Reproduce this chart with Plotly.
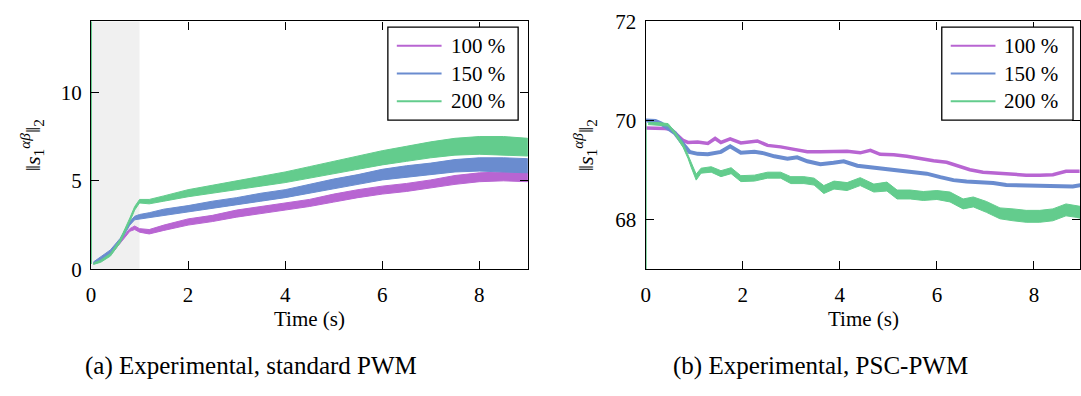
import plotly.graph_objects as go

# ---------------- data ----------------
series_names = ["100 %", "150 %", "200 %"]
colors = ["#b865d2", "#6a8ccf", "#63cc8d"]

# (a) Experimental, standard PWM: envelopes of the dense oscillating signals
t_a = [0.05, 0.2, 0.4, 0.6, 0.8, 0.9, 1.0, 1.2, 1.5, 2.0, 2.5, 3.0, 3.5, 4.0,
       4.5, 5.0, 5.5, 6.0, 6.5, 7.0, 7.5, 8.0, 8.5, 9.0]
a100_lo = [0.30, 0.45, 0.80, 1.50, 2.15, 2.25, 2.10, 2.00, 2.20, 2.50, 2.70, 2.95,
           3.15, 3.35, 3.55, 3.80, 4.05, 4.25, 4.40, 4.60, 4.80, 4.95, 5.00, 4.95]
a100_hi = [0.38, 0.58, 0.95, 1.65, 2.30, 2.45, 2.30, 2.25, 2.50, 2.85, 3.05, 3.35,
           3.55, 3.75, 3.95, 4.25, 4.50, 4.70, 4.85, 5.05, 5.30, 5.45, 5.50, 5.45]
a150_lo = [0.32, 0.50, 0.90, 1.55, 2.50, 2.80, 2.85, 2.90, 3.05, 3.25, 3.45, 3.65,
           3.85, 4.05, 4.30, 4.55, 4.80, 5.05, 5.20, 5.35, 5.50, 5.55, 5.50, 5.45]
a150_hi = [0.42, 0.70, 1.10, 1.75, 2.70, 3.00, 3.10, 3.20, 3.40, 3.60, 3.85, 4.05,
           4.30, 4.50, 4.80, 5.10, 5.35, 5.65, 5.85, 6.00, 6.20, 6.30, 6.30, 6.25]
a200_lo = [0.28, 0.40, 0.75, 1.50, 2.70, 3.35, 3.75, 3.70, 3.85, 4.10, 4.30, 4.50,
           4.70, 4.90, 5.15, 5.40, 5.65, 5.90, 6.10, 6.30, 6.45, 6.50, 6.45, 6.40]
a200_hi = [0.36, 0.52, 0.90, 1.70, 2.90, 3.55, 3.95, 3.95, 4.15, 4.50, 4.75, 5.00,
           5.25, 5.50, 5.80, 6.10, 6.40, 6.70, 6.95, 7.20, 7.40, 7.50, 7.50, 7.40]
a_spike_t = [0, 0]
a_spike_v = [0.3, 14.5]
a_shade = [0, 1]  # start-up interval (s)

# (b) Experimental, PSC-PWM
t_b100 = [0.0, 0.2, 0.4, 0.53, 0.6, 0.77, 0.87, 1.07, 1.28, 1.43, 1.55, 1.74, 1.96,
          2.3, 2.51, 2.78, 3.06, 3.33, 3.6, 3.87, 4.15, 4.42, 4.63, 4.83, 5.11,
          5.38, 5.65, 5.93, 6.2, 6.41, 6.68, 6.95, 7.3, 7.57, 7.84, 8.12, 8.39,
          8.66, 8.94]
b100 = [69.85, 69.85, 69.84, 69.82, 69.75, 69.6, 69.56, 69.57, 69.54, 69.64, 69.56,
        69.63, 69.55, 69.59, 69.5, 69.47, 69.42, 69.37, 69.37, 69.37, 69.38, 69.35,
        69.4, 69.32, 69.31, 69.28, 69.23, 69.19, 69.16, 69.09, 69.01, 68.96, 68.93,
        68.91, 68.9, 68.9, 68.91, 68.98, 68.98]
t_b150 = [0.0, 0.2, 0.32, 0.6, 0.77, 0.9, 1.07, 1.28, 1.55, 1.74, 1.96, 2.24, 2.44,
          2.65, 2.92, 3.12, 3.33, 3.6, 3.87, 4.08, 4.36, 4.7, 4.97, 5.24, 5.52,
          5.79, 6.07, 6.34, 6.61, 6.89, 7.16, 7.43, 7.77, 8.12, 8.46, 8.8, 8.96]
b150 = [70.0, 69.99, 69.94, 69.75, 69.53, 69.37, 69.33, 69.32, 69.37, 69.48, 69.35,
        69.37, 69.34, 69.28, 69.23, 69.26, 69.18, 69.12, 69.15, 69.18, 69.09, 69.05,
        69.02, 68.99, 68.96, 68.93, 68.86, 68.8, 68.77, 68.76, 68.74, 68.7, 68.69,
        68.67, 68.67, 68.67, 68.7]
t_b200 = [0.05, 0.25, 0.46, 0.6, 0.77, 0.87, 0.94, 1.04, 1.14, 1.35, 1.55, 1.76,
          1.96, 2.24, 2.51, 2.78, 2.99, 3.26, 3.47, 3.67, 3.88, 4.15, 4.42, 4.7,
          4.97, 5.18, 5.45, 5.72, 6.0, 6.27, 6.54, 6.75, 7.02, 7.3, 7.57, 7.84,
          8.12, 8.39, 8.66, 8.87, 8.96]
b200_lo = [69.92, 69.91, 69.89, 69.72, 69.46, 69.24, 69.05, 68.80, 68.94, 68.96,
           68.87, 68.93, 68.77, 68.78, 68.84, 68.84, 68.73, 68.73, 68.70, 68.53,
           68.62, 68.59, 68.69, 68.56, 68.58, 68.42, 68.42, 68.39, 68.41, 68.36,
           68.22, 68.26, 68.15, 68.02, 67.98, 67.95, 67.95, 67.98, 68.08, 68.05, 68.03]
b200_hi = [69.96, 69.96, 69.94, 69.78, 69.54, 69.32, 69.14, 68.92, 69.04, 69.07,
           68.99, 69.05, 68.89, 68.90, 68.96, 68.96, 68.87, 68.87, 68.84, 68.69,
           68.78, 68.75, 68.85, 68.72, 68.76, 68.60, 68.60, 68.57, 68.59, 68.56,
           68.42, 68.46, 68.37, 68.24, 68.22, 68.19, 68.19, 68.22, 68.32, 68.29, 68.27]
b_spike_t = [0, 0]
b_spike_v = [66.9, 69.95]

x_ticks = [0, 2, 4, 6, 8]
ya_ticks = [0, 5, 10]
yb_ticks = [68, 70, 72]
caption_a = "(a) Experimental, standard PWM"
caption_b = "(b) Experimental, PSC-PWM"
x_title = "Time (s)"
y_title = "‖<i>s</i><sub>1</sub><sup><i>αβ</i></sup>‖<sub>2</sub>"

# ---------------- figure ----------------
W, H = 1081, 396
FONT = "Liberation Serif, Times New Roman, DejaVu Serif, serif"
fig = go.Figure()


def band(t, lo, hi, color, xa, ya):
    fig.add_trace(go.Scatter(
        x=list(t) + list(t)[::-1], y=list(hi) + list(lo)[::-1],
        fill="toself", fillcolor=color, mode="lines",
        line=dict(color=color, width=1), showlegend=False, hoverinfo="skip",
        xaxis=xa, yaxis=ya))


def line(t, v, color, width, xa, ya):
    fig.add_trace(go.Scatter(x=t, y=v, mode="lines",
                             line=dict(color=color, width=width),
                             showlegend=False, xaxis=xa, yaxis=ya))


# panel (a)
band(t_a, a100_lo, a100_hi, colors[0], "x", "y")
band(t_a, a150_lo, a150_hi, colors[1], "x", "y")
band(t_a, a200_lo, a200_hi, colors[2], "x", "y")
line(a_spike_t, a_spike_v, colors[2], 2, "x", "y")

# panel (b)
line(t_b100, b100, colors[0], 3.5, "x2", "y2")
line(t_b150, b150, colors[1], 4, "x2", "y2")
band(t_b200, b200_lo, b200_hi, colors[2], "x2", "y2")
line(b_spike_t, b_spike_v, colors[2], 2, "x2", "y2")

# geometry in pixels
ax_l, ax_r = 86.5, 525.7
bx_l = 644.3
bx_r = W  # panel (b) is cut at the image edge
y_top, y_bot = 10, 274
px_per_s = (ax_r - ax_l) / 9.0
b_xmax = (bx_r - bx_l) / px_per_s

axis_common = dict(showgrid=False, zeroline=False, showline=True, linecolor="black",
                   linewidth=1.3, mirror="allticks", ticks="inside", ticklen=8,
                   tickwidth=1, tickcolor="black",
                   tickfont=dict(family=FONT, size=21, color="black"))

fig.update_layout(
    width=W, height=H, margin=dict(l=0, r=0, t=0, b=0),
    paper_bgcolor="white", plot_bgcolor="white", showlegend=False,
    font=dict(family=FONT, color="black"),
    xaxis=dict(domain=[ax_l / W, ax_r / W], range=[0, 9], tickvals=x_ticks,
               anchor="y", ticklabelstandoff=6, **axis_common),
    yaxis=dict(domain=[1 - y_bot / H, 1 - y_top / H], range=[0, 14], tickvals=ya_ticks,
               anchor="x", ticklabelstandoff=4, **axis_common),
    xaxis2=dict(domain=[bx_l / W, 1.0], range=[0, b_xmax], tickvals=x_ticks,
                anchor="y2", ticklabelstandoff=6, **axis_common),
    yaxis2=dict(domain=[1 - y_bot / H, 1 - y_top / H], range=[67, 72.0001],
                tickvals=yb_ticks, anchor="x2", ticklabelstandoff=4,
                ticklabeloverflow="allow", **axis_common),
)

# shaded start-up interval in panel (a)
fig.add_shape(type="rect", xref="x", yref="y domain", x0=a_shade[0], x1=a_shade[1],
              y0=0, y1=1, fillcolor="#f0f0f0", line=dict(width=0), layer="below")

annotations = []
shapes = []


def px_x(x):
    return x / W


def px_y(y):
    return 1 - y / H


# axis titles and captions
for cx, ycx in [((ax_l + ax_r) / 2, 27), ((bx_l + 1083) / 2, 583)]:
    annotations.append(dict(x=px_x(cx), y=px_y(327), xref="paper", yref="paper",
                            text=x_title, showarrow=False,
                            font=dict(family=FONT, size=21, color="black"),
                            xanchor="center", yanchor="middle"))
    annotations.append(dict(x=px_x(ycx), y=px_y(142), xref="paper", yref="paper",
                            text=y_title, showarrow=False, textangle=-90,
                            font=dict(family=FONT, size=22, color="black"),
                            xanchor="center", yanchor="middle"))
annotations.append(dict(x=px_x(247), y=px_y(377), xref="paper", yref="paper",
                        text=caption_a, showarrow=False,
                        font=dict(family=FONT, size=25, color="black"),
                        xanchor="center", yanchor="middle"))
annotations.append(dict(x=px_x(820), y=px_y(377), xref="paper", yref="paper",
                        text=caption_b, showarrow=False,
                        font=dict(family=FONT, size=25, color="black"),
                        xanchor="center", yanchor="middle"))

# legends drawn as boxes in pixel positions
for box_l, box_r in [(385, 516), (942, 1074)]:
    shapes.append(dict(type="rect", xref="paper", yref="paper",
                       x0=px_x(box_l), x1=px_x(box_r), y0=px_y(115), y1=px_y(16),
                       fillcolor="white", line=dict(color="black", width=1.3),
                       layer="above"))
    for i, (name, col) in enumerate(zip(series_names, colors)):
        yy = 36 + 29.5 * i
        shapes.append(dict(type="line", xref="paper", yref="paper",
                           x0=px_x(box_l + 9), x1=px_x(box_l + 54),
                           y0=px_y(yy), y1=px_y(yy),
                           line=dict(color=col, width=2), layer="above"))
        annotations.append(dict(x=px_x(box_l + 61), y=px_y(yy), xref="paper",
                                yref="paper", text=name, showarrow=False,
                                font=dict(family=FONT, size=21, color="black"),
                                xanchor="left", yanchor="middle"))

fig.update_layout(annotations=annotations, shapes=list(fig.layout.shapes) + shapes)
fig.write_html("out.html", config={"displayModeBar": False},
               post_script="document.body.style.margin='0';"
                           "document.body.style.overflow='hidden';")
